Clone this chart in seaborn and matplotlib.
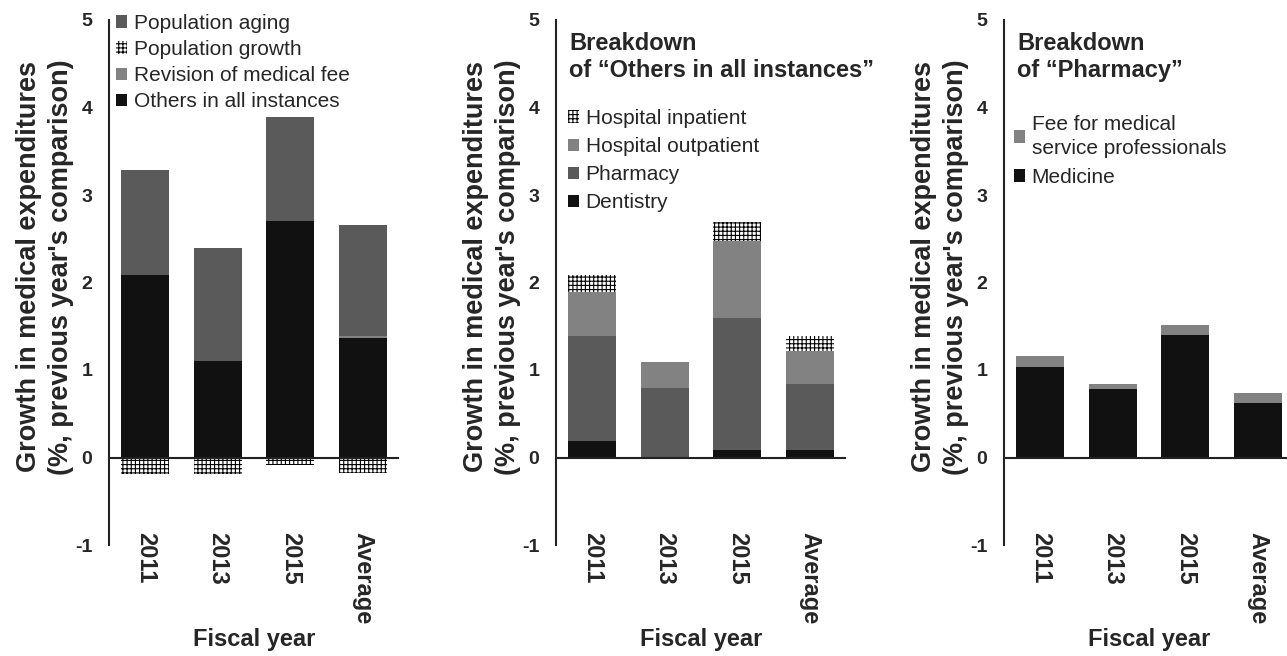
import numpy as np
import matplotlib
matplotlib.use("Agg")
import matplotlib.pyplot as plt
import seaborn as sns
from matplotlib.patches import Patch

# ---- data -------------------------------------------------------------
years = ["2011", "2013", "2015", "Average"]

# Factors of growth in medical expenditures (%)
others_all = [2.09, 1.10, 2.70, 1.37]
fee_revision = [0.0, 0.0, 0.0, 0.02]
population_aging = [1.20, 1.29, 1.19, 1.27]
population_growth = [-0.19, -0.19, -0.09, -0.18]

# Breakdown of "Others in all instances"
dentistry = [0.19, 0.0, 0.09, 0.09]
pharmacy = [1.20, 0.80, 1.50, 0.75]
hospital_outpatient = [0.50, 0.29, 0.89, 0.38]
hospital_inpatient = [0.20, 0.0, 0.21, 0.17]

# Breakdown of "Pharmacy"
medicine = [1.04, 0.78, 1.40, 0.62]
fee_professionals = [0.12, 0.06, 0.11, 0.12]

# ---- style ------------------------------------------------------------
sns.set_style("white")
plt.rcParams["font.family"] = ["Liberation Sans", "DejaVu Sans"]
plt.rcParams["hatch.linewidth"] = 0.8

BLACK = "#111111"
DARK = "#5a5a5a"
LIGHT = "#828282"
HATCH = "++++"
BAR_W = 0.66

solid = lambda c: dict(facecolor=c, edgecolor=c, linewidth=0)
hatched = dict(facecolor="white", edgecolor="black", linewidth=0, hatch=HATCH)

fig = plt.figure(figsize=(12.87, 6.56), dpi=100)
W, H = 1287, 656


def make_axes(left_px):
    return fig.add_axes([left_px / W, (H - 545) / H, 290 / W, 525 / H])


def stacked(ax, layers):
    """layers listed bottom -> top; each drawn as a cumulative bar,
    tallest first so lower segments sit on top of it."""
    cum = np.zeros(len(years))
    tops = []
    for vals, style in layers:
        cum = cum + np.asarray(vals, dtype=float)
        tops.append((cum.copy(), style))
    for top, style in reversed(tops):
        sns.barplot(x=years, y=top, ax=ax, width=BAR_W, **style)


def finish(ax):
    ax.set_xlim(-0.5, 3.5)
    ax.set_ylim(-1, 5)
    ax.axhline(0, color="#222222", lw=1.5, zorder=5)
    for s in ("top", "right", "bottom"):
        ax.spines[s].set_visible(False)
    ax.spines["left"].set_color("#222222")
    ax.spines["left"].set_linewidth(1.5)
    ax.set_yticks(range(-1, 6))
    ax.set_yticklabels([str(v) for v in range(-1, 6)],
                       fontsize=14, fontweight="bold")
    ax.tick_params(axis="y", length=0, pad=12)
    ax.set_xticks(range(len(years)))
    ax.set_xticklabels(years, rotation=270, fontsize=17, fontweight="bold")
    ax.tick_params(axis="x", length=0, pad=-9)
    ax.set_xlabel("Fiscal year", fontsize=17, fontweight="bold", labelpad=2)
    ax.set_ylabel("Growth in medical expenditures\n(%, previous year's comparison)",
                  fontsize=19.5, fontweight="bold", linespacing=1.3)
    ax.yaxis.set_label_coords(-0.221, 0.53)
    ax.yaxis.label.set_va("center")
    ax.grid(False)


def add_legend(ax, items, x_px, y_px, spacing, linespacing=1.2):
    handles = [Patch(label=lab, **st) for lab, st in items]
    leg = ax.legend(handles=handles, loc="upper left",
                    bbox_to_anchor=(x_px / W, 1 - y_px / H),
                    bbox_transform=fig.transFigure, frameon=False,
                    fontsize=15, handlelength=0.55, handleheight=0.55,
                    handletextpad=0.3, labelspacing=spacing,
                    borderpad=0, borderaxespad=0)
    for t in leg.get_texts():
        t.set_linespacing(linespacing)
    return leg


# ---- panel 1: factors ---------------------------------------------------
ax1 = make_axes(109)
stacked(ax1, [(others_all, solid(BLACK)),
              (fee_revision, solid(LIGHT)),
              (population_aging, solid(DARK))])
sns.barplot(x=years, y=population_growth, ax=ax1, width=BAR_W, **hatched)
finish(ax1)
add_legend(ax1, [("Population aging", solid(DARK)),
                 ("Population growth", hatched),
                 ("Revision of medical fee", solid(LIGHT)),
                 ("Others in all instances", solid(BLACK))],
           116, 14, 0.34)

# ---- panel 2: breakdown of "Others in all instances" -------------------
ax2 = make_axes(556)
stacked(ax2, [(dentistry, solid(BLACK)),
              (pharmacy, solid(DARK)),
              (hospital_outpatient, solid(LIGHT)),
              (hospital_inpatient, hatched)])
finish(ax2)
ax2.text(13 / 290, 1 - 12 / 525, "Breakdown\nof \u201cOthers in all instances\u201d",
         transform=ax2.transAxes, ha="left", va="top",
         fontsize=17, fontweight="bold", linespacing=1.2)
add_legend(ax2, [("Hospital inpatient", hatched),
                 ("Hospital outpatient", solid(LIGHT)),
                 ("Pharmacy", solid(DARK)),
                 ("Dentistry", solid(BLACK))],
           568, 109, 0.44)

# ---- panel 3: breakdown of "Pharmacy" ------------------------------------
ax3 = make_axes(1004)
stacked(ax3, [(medicine, solid(BLACK)),
              (fee_professionals, solid(LIGHT))])
finish(ax3)
ax3.text(13 / 290, 1 - 12 / 525, "Breakdown\nof \u201cPharmacy\u201d",
         transform=ax3.transAxes, ha="left", va="top",
         fontsize=17, fontweight="bold", linespacing=1.2)
add_legend(ax3, [("Fee for medical\nservice professionals", solid(LIGHT)),
                 ("Medicine", solid(BLACK))],
           1014, 115, 0.5, linespacing=1.3)

fig.savefig("out.png", dpi=100)
